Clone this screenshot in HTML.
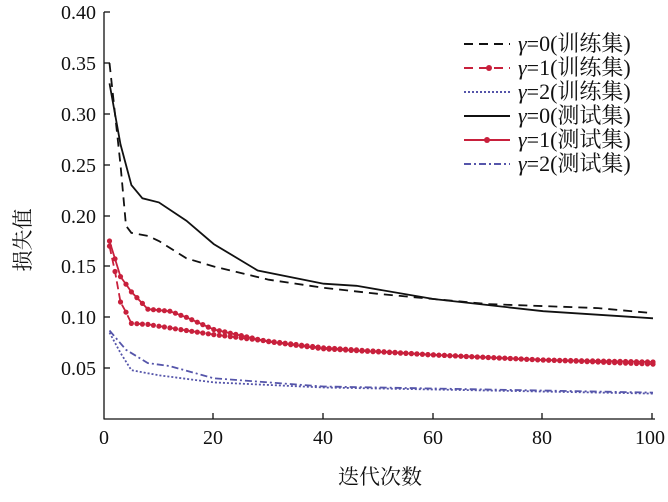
<!DOCTYPE html>
<html><head><meta charset="utf-8"><style>
body{margin:0;background:#fff;width:668px;height:497px;overflow:hidden}
svg text{font-family:"Liberation Serif","Noto Serif CJK SC",serif;fill:#111}
</style></head><body>
<svg id="s" width="668" height="497" xmlns="http://www.w3.org/2000/svg">
<g stroke="#111" stroke-width="1.3" fill="none">
<line x1="104" y1="12" x2="104" y2="419"/>
<line x1="103.5" y1="419" x2="655" y2="419"/>
<line x1="104" y1="12" x2="110" y2="12"/><line x1="104" y1="63" x2="110" y2="63"/><line x1="104" y1="114" x2="110" y2="114"/><line x1="104" y1="165" x2="110" y2="165"/><line x1="104" y1="216" x2="110" y2="216"/><line x1="104" y1="266" x2="110" y2="266"/><line x1="104" y1="317" x2="110" y2="317"/><line x1="104" y1="368" x2="110" y2="368"/>
<line x1="213" y1="419" x2="213" y2="413"/><line x1="323" y1="419" x2="323" y2="413"/><line x1="433" y1="419" x2="433" y2="413"/><line x1="542" y1="419" x2="542" y2="413"/><line x1="652" y1="419" x2="652" y2="413"/>
</g>
<g font-size="20" text-anchor="end">
<text x="96" y="19">0.40</text><text x="96" y="70">0.35</text><text x="96" y="121">0.30</text><text x="96" y="172">0.25</text><text x="96" y="223">0.20</text><text x="96" y="273">0.15</text><text x="96" y="324">0.10</text><text x="96" y="375">0.05</text>
</g>
<g font-size="20" text-anchor="middle">
<text x="104" y="444">0</text><text x="213" y="444">20</text><text x="323" y="444">40</text><text x="433" y="444">60</text><text x="542" y="444">80</text><text x="650" y="444">100</text>
<text x="380" y="484" font-size="21">迭代次数</text>
</g>
<text x="0" y="0" font-size="21" transform="translate(30,240) rotate(-90)" text-anchor="middle">损失值</text>
<g font-size="22">
<text x="518" y="51"><tspan font-style="italic">γ</tspan>=0(训练集)</text>
<text x="518" y="75"><tspan font-style="italic">γ</tspan>=1(训练集)</text>
<text x="518" y="99"><tspan font-style="italic">γ</tspan>=2(训练集)</text>
<text x="518" y="123"><tspan font-style="italic">γ</tspan>=0(测试集)</text>
<text x="518" y="147"><tspan font-style="italic">γ</tspan>=1(测试集)</text>
<text x="518" y="171"><tspan font-style="italic">γ</tspan>=2(测试集)</text>
</g>
<g fill="none" stroke-width="2">
<line x1="464" y1="44" x2="510" y2="44" stroke="#111" stroke-dasharray="9,6"/>
<line x1="464" y1="68" x2="510" y2="68" stroke="#c8203c" stroke-dasharray="9,6"/><circle cx="489" cy="68" r="3" fill="#c8203c"/>
<line x1="464" y1="92" x2="510" y2="92" stroke="#5555aa" stroke-dasharray="2,2"/>
<line x1="464" y1="116" x2="510" y2="116" stroke="#111"/>
<line x1="464" y1="140" x2="510" y2="140" stroke="#c8203c"/><circle cx="487" cy="140" r="3" fill="#c8203c"/>
<line x1="464" y1="164" x2="510" y2="164" stroke="#5555aa" stroke-dasharray="7,3,2,3"/>
</g>
<g id="c" fill="none" stroke-width="1.8"></g>
</svg>
<script>
function X(v){return 104+v*5.49}function Y(v){return 419-v*1017}
var S=[
[[[1,0.35],[2,0.30],[3,0.25],[4,0.19],[5,0.183],[8,0.18],[10,0.175],[15,0.158],[20,0.15],[30,0.137],[40,0.129],[50,0.123],[60,0.118],[70,0.113],[80,0.111],[90,0.109],[100,0.104]],"#111","9,6",0],
[[[1,0.33],[3,0.27],[5,0.23],[7,0.217],[10,0.213],[15,0.195],[20,0.172],[28,0.146],[40,0.133],[46,0.131],[60,0.118],[80,0.106],[100,0.099]],"#111","",0],
[[[1,0.17],[2,0.145],[3,0.115],[4,0.105],[5,0.094],[8,0.093],[15,0.087],[20,0.083],[40,0.07],[60,0.063],[80,0.058],[100,0.054]],"#c8203c","8,4",1],
[[[1,0.175],[3,0.14],[5,0.125],[8,0.108],[12,0.106],[15,0.1],[20,0.088],[30,0.076],[40,0.069],[60,0.063],[80,0.058],[100,0.056]],"#c8203c","",1],
[[[1,0.085],[3,0.065],[5,0.048],[10,0.043],[20,0.036],[40,0.031],[60,0.029],[100,0.025]],"#5555aa","2,2",0],
[[[1,0.087],[4,0.068],[8,0.055],[12,0.052],[20,0.04],[40,0.032],[60,0.03],[100,0.026]],"#5555aa","7,3,2,3",0]];
var g=document.getElementById('c'),h='';
function interp(p,v){for(var i=1;i<p.length;i++)if(v<=p[i][0]){var a=p[i-1],b=p[i],t=(v-a[0])/(b[0]-a[0]);return a[1]+t*(b[1]-a[1]);}return p[p.length-1][1];}
S.forEach(function(s){var d='M'+s[0].map(function(q){return X(q[0]).toFixed(1)+','+Y(q[1]).toFixed(1)}).join('L');
h+='<path d="'+d+'" stroke="'+s[1]+'"'+(s[2]?' stroke-dasharray="'+s[2]+'"':'')+'/>';
if(s[3]){for(var v=1;v<=100;v+=1){h+='<circle cx="'+X(v).toFixed(1)+'" cy="'+Y(interp(s[0],v)).toFixed(1)+'" r="2.6" fill="'+s[1]+'" stroke="none"/>';}}});
g.innerHTML=h;
</script>
</body></html>
